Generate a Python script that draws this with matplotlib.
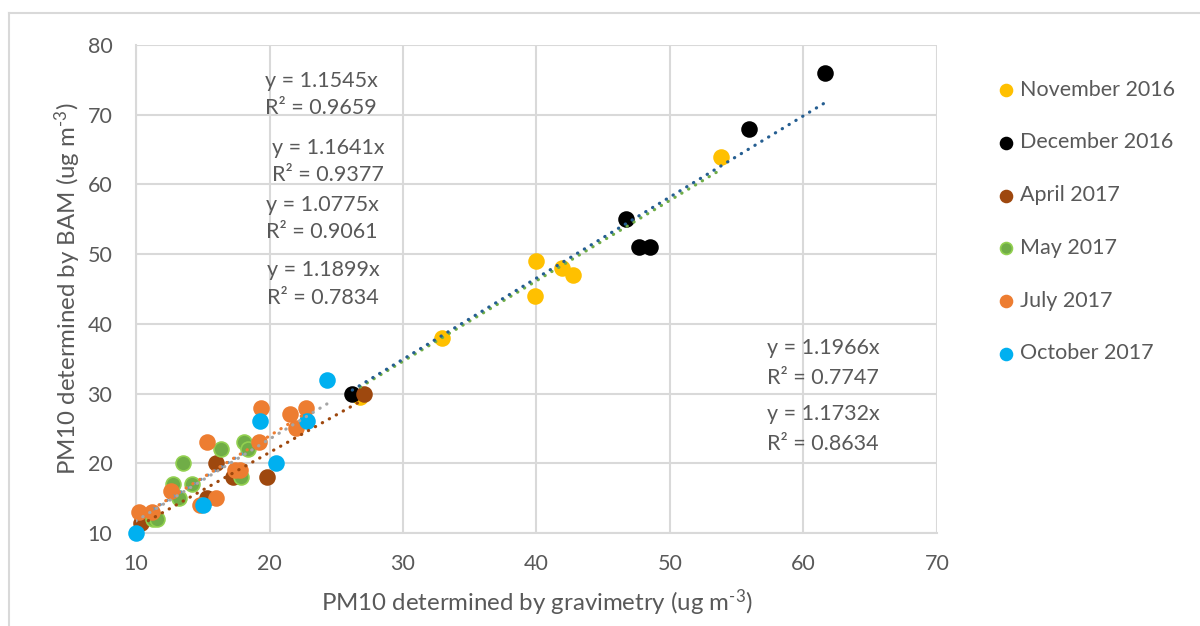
import matplotlib
matplotlib.use("Agg")
import matplotlib.pyplot as plt
from matplotlib.lines import Line2D

plt.rcParams['font.family'] = ['Lato', 'DejaVu Sans']
plt.rcParams['mathtext.fontset'] = 'custom'
plt.rcParams['mathtext.rm'] = 'Lato'
plt.rcParams['mathtext.default'] = 'regular'

TEXT = '#595959'
GRID = '#D9D9D9'

# series (gravimetry, BAM)
nov_x = [26.8, 32.9, 40.0, 39.9, 41.9, 42.7, 53.8]
nov_y = [29.5, 38, 49, 44, 48, 47, 64]
dec_x = [26.2, 46.7, 47.7, 48.5, 55.9, 61.6]
dec_y = [30, 55, 51, 51, 68, 76]
apr_x = [10.4, 15.3, 16.0, 17.3, 19.8, 27.1]
apr_y = [11.5, 15, 20, 18, 18, 30]
may_x = [11.3, 11.6, 12.8, 13.2, 13.5, 14.2, 16.4, 17.9, 18.1, 18.4]
may_y = [12, 12, 17, 15, 20, 17, 22, 18, 23, 22]
jul_x = [10.2, 11.2, 12.6, 14.8, 15.3, 16.0, 17.4, 17.8, 19.2, 19.4, 21.5, 22.0, 22.7]
jul_y = [13, 13, 16, 14, 23, 15, 19, 19, 23, 28, 27, 25, 28]
oct_x = [10.0, 15.0, 19.3, 20.5, 22.8, 24.3]
oct_y = [10, 14, 26, 20, 26, 32]

labels = ['November 2016', 'December 2016', 'April 2017', 'May 2017', 'July 2017', 'October 2017']
colors = ['#FFC000', '#000000', '#9E480E', '#70AD47', '#ED7D31', '#00B0F0']
edges = ['#FFC000', '#000000', '#9E480E', '#92D050', '#ED7D31', '#00B0F0']

# trendlines through the origin, y = a x
slopes = [1.1545, 1.1641, 1.0775, 1.1899, 1.1966, 1.1732]
r2 = [0.9659, 0.9377, 0.9061, 0.7834, 0.7747, 0.8634]
trend_colors = ['#70AD47', '#255E91', '#9E480E', '#5B9BD5', '#ED7D31', '#A5A5A5']

xs = [nov_x, dec_x, apr_x, may_x, jul_x, oct_x]
ys = [nov_y, dec_y, apr_y, may_y, jul_y, oct_y]

fig = plt.figure(figsize=(12, 6.26), dpi=100)
ax = fig.add_axes([136 / 1200, 1 - 533 / 626, (937 - 136) / 1200, (533 - 45) / 626])

for x, y, c, e, lab in zip(xs, ys, colors, edges, labels):
    ax.scatter(x, y, s=115, color=c, edgecolors=e, linewidths=1.2, label=lab,
               zorder=3, clip_on=False)

for x, a, c in zip(xs, slopes, trend_colors):
    x0, x1 = min(x), max(x)
    ax.plot([x0, x1], [a * x0, a * x1], color=c, lw=2.3,
            linestyle=(0, (0.1, 2.4)), dash_capstyle='round', zorder=4)

# equation labels (data coordinates)
eq_pos = [(19.7, 74.85, 70.97), (20.2, 65.2, 61.4), (19.75, 57.06, 53.2),
          (19.8, 47.7, 43.7), (57.3, 36.5, 32.2), (57.3, 27.1, 22.8)]
for (tx, y1, y2), a, r in zip(eq_pos, slopes, r2):
    ax.text(tx, y1, f'y = {a:.4f}x', color=TEXT, fontsize=15.5, va='center', ha='left', zorder=5)
    ax.text(tx, y2, f'R² = {r:.4f}', color=TEXT, fontsize=15.5, va='center', ha='left', zorder=5)

ax.set_xlim(10, 70)
ax.set_ylim(10, 80)
ax.set_xticks(range(10, 71, 10))
ax.set_yticks(range(10, 81, 10))
ax.grid(True, color=GRID, lw=1.5, zorder=0)
ax.set_axisbelow(True)
for s in ['top', 'right']:
    ax.spines[s].set_visible(False)
for s in ['left', 'bottom']:
    ax.spines[s].set_color(GRID)
    ax.spines[s].set_linewidth(1.5)
ax.tick_params(length=0, labelsize=15.5, labelcolor=TEXT)
ax.tick_params(axis='x', pad=15)
ax.tick_params(axis='y', pad=17)

ax.set_xlabel(r'PM10 determined by gravimetry (ug m$^{\text{-3}}$)', fontsize=17.3, color=TEXT, labelpad=10)
ax.set_ylabel(r'PM10 determined by BAM (ug m$^{\text{-3}}$)', fontsize=17.3, color=TEXT, labelpad=3)

leg = fig.legend(loc='upper left', bbox_to_anchor=(984 / 1200, 1 - 69 / 626), frameon=False,
                 fontsize=15.5, labelspacing=1.52, handletextpad=0.15, markerscale=0.8,
                 borderpad=0, handlelength=1.0)
for t in leg.get_texts():
    t.set_color(TEXT)

# outer chart border
fig.add_artist(Line2D([9 / 1200, 1], [1 - 13 / 626, 1 - 13 / 626], color=GRID, lw=1.5))
fig.add_artist(Line2D([9 / 1200, 9 / 1200], [0, 1 - 13 / 626], color=GRID, lw=1.5))

fig.savefig('out.png', dpi=100)
